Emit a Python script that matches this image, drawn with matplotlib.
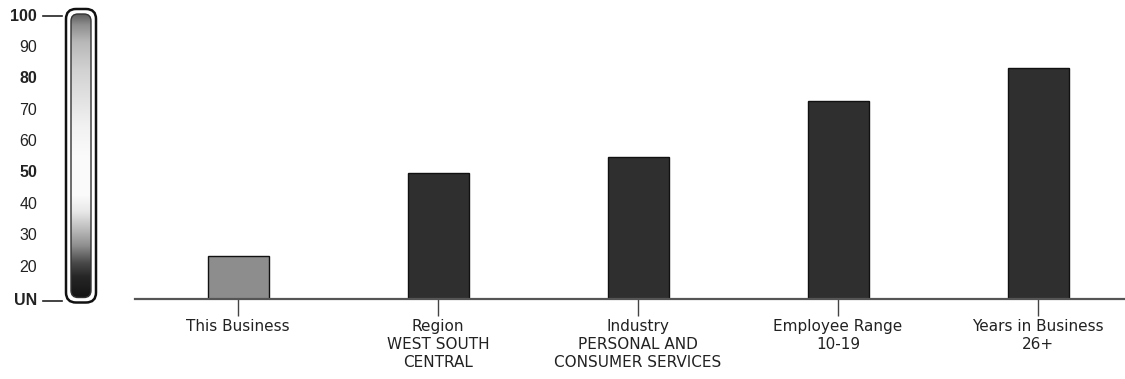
import numpy as np
import matplotlib
matplotlib.use("Agg")
import matplotlib.pyplot as plt
from matplotlib.patches import FancyBboxPatch
from matplotlib.colors import LinearSegmentedColormap

# --- data -------------------------------------------------------------
categories = [
    "This Business",
    "Region\nWEST SOUTH\nCENTRAL",
    "Industry\nPERSONAL AND\nCONSUMER SERVICES",
    "Employee Range\n10-19",
    "Years in Business\n26+",
]
scores = [23.5, 50, 55, 73, 83.5]
bar_colors = ["#8d8d8d", "#2f2f2f", "#2f2f2f", "#2f2f2f", "#2f2f2f"]

scale_values = [10, 20, 30, 40, 50, 60, 70, 80, 90, 100]
scale_labels = ["UN", "20", "30", "40", "50", "60", "70", "80", "90", "100"]
scale_bold = ["UN", "50", "80", "100"]

# --- figure -----------------------------------------------------------
W, H = 1125, 379
fig = plt.figure(figsize=(W / 100, H / 100), dpi=100)
fig.patch.set_facecolor("white")

# bar axes: baseline at the "UN" level, top at 100
left_px, right_px = 135, 1125
base_px, top_px = 298.5, 16
ax = fig.add_axes([left_px / W, (H - base_px) / H,
                   (right_px - left_px) / W, (base_px - top_px) / H])
x = np.arange(len(categories))
ax.bar(x, [s - 10 for s in scores], bottom=10, width=0.305,
       color=bar_colors, edgecolor="#111111", linewidth=1.0, zorder=2)
ax.set_xlim(-0.515, -0.515 + (right_px - left_px) / 200)
ax.set_ylim(10, 100)
for side in ["top", "right", "left"]:
    ax.spines[side].set_visible(False)
ax.spines["bottom"].set_color("#555555")
ax.spines["bottom"].set_linewidth(1.6)
ax.set_yticks([])
ax.set_xticks(x)
ax.set_xticklabels(categories, fontsize=11, color="#222222",
                   family="DejaVu Sans", linespacing=1.22)
ax.tick_params(axis="x", length=12, width=1.0, color="#444444", pad=3)

# --- score scale (pixel overlay) ---------------------------------------
ov = fig.add_axes([0, 0, 1, 1])
ov.set_xlim(0, W)
ov.set_ylim(0, H)
ov.axis("off")


def val_px(v):
    return ax.transData.transform((0, v))[1]


y_lo, y_hi = val_px(10) - 4, val_px(100) + 7
bx0, bx1 = 66, 96

outer = FancyBboxPatch((bx0 + 6, y_lo + 6), (bx1 - bx0) - 12, (y_hi - y_lo) - 12,
                       boxstyle="round,pad=6,rounding_size=10",
                       facecolor="white", edgecolor="#111111", linewidth=1.8,
                       zorder=1)
ov.add_patch(outer)
inner = FancyBboxPatch((bx0 + 10, y_lo + 10), (bx1 - bx0) - 20, (y_hi - y_lo) - 20,
                       boxstyle="round,pad=5,rounding_size=7",
                       facecolor="none", edgecolor="#333333", linewidth=1.0,
                       zorder=3)
ov.add_patch(inner)

grad_cmap = LinearSegmentedColormap.from_list("score", [
    (0.00, "#151515"), (0.07, "#262626"), (0.12, "#4a4a4a"),
    (0.18, "#8f8f8f"), (0.24, "#bdbdbd"), (0.30, "#e8e8e8"),
    (0.36, "#fbfbfb"), (0.50, "#fafafa"), (0.60, "#f2f2f2"),
    (0.70, "#e2e2e2"), (0.80, "#d2d2d2"), (0.90, "#b8b8b8"),
    (0.96, "#8e8e8e"), (1.00, "#5a5a5a"),
])
grad = np.linspace(0, 1, 256).reshape(-1, 1)
im = ov.imshow(grad, cmap=grad_cmap, origin="lower", aspect="auto",
               extent=(bx0 + 5, bx1 - 5, y_lo + 5, y_hi - 5), zorder=2,
               interpolation="bilinear")
im.set_clip_path(inner)

for v, lab in zip(scale_values, scale_labels):
    yy = val_px(v)
    if lab == "UN":
        yy -= 2
    ov.text(37, yy, lab, ha="right", va="center", fontsize=11.5,
            family="Liberation Sans", color="#222222",
            fontweight="bold" if lab in scale_bold else "normal")
for v in (10, 100):
    yy = val_px(v) - (2 if v == 10 else 0)
    ov.plot([43, 62], [yy, yy], color="#222222", linewidth=1.2)

fig.savefig("out.png", dpi=100)
